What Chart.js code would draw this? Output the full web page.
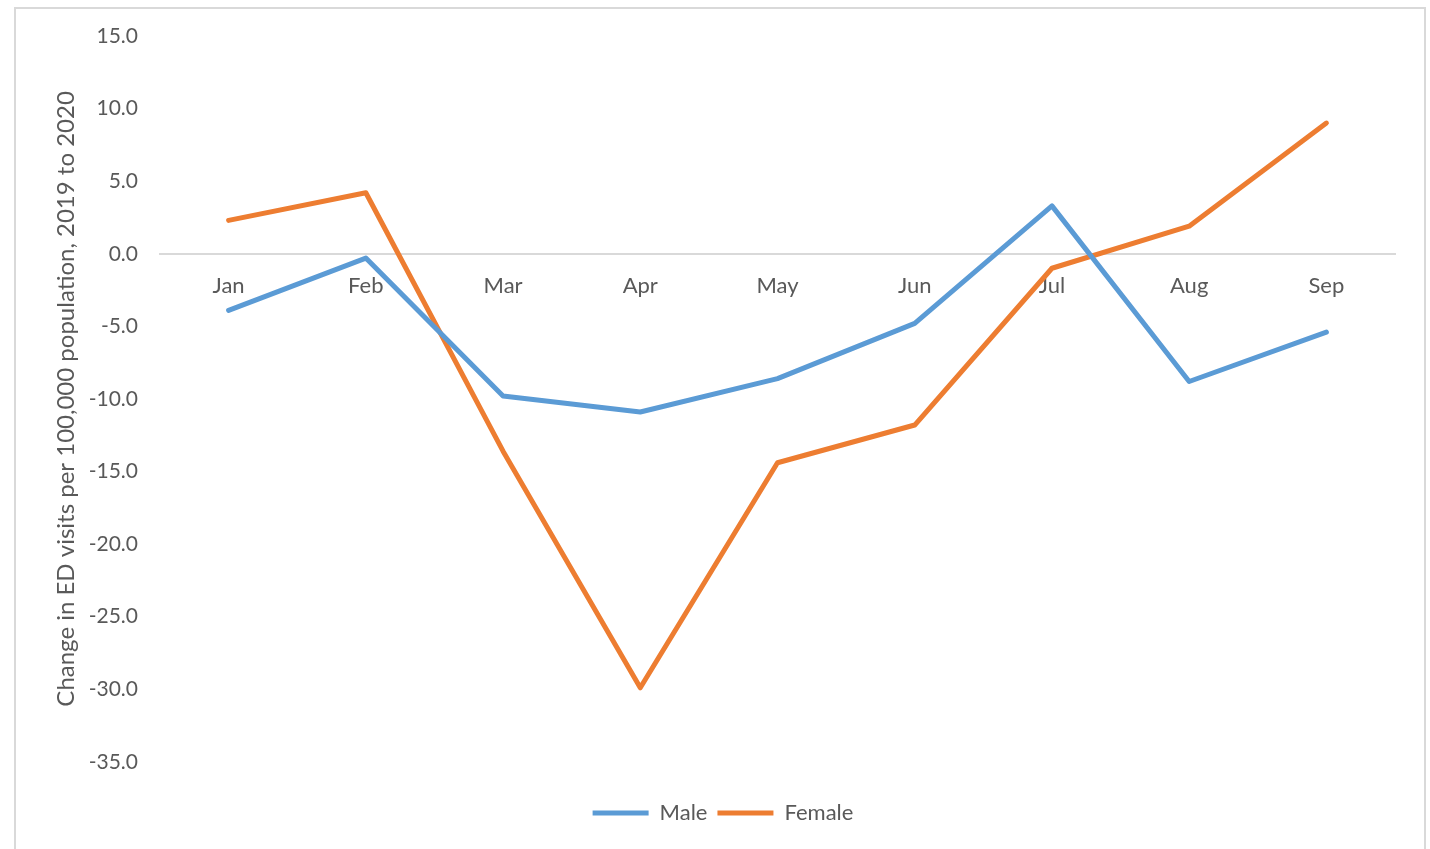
<!DOCTYPE html>
<html>
<head>
<meta charset="utf-8">
<script src="https://cdn.jsdelivr.net/npm/chart.js@4"></script>
<style>
html,body{margin:0;padding:0;background:#fff;overflow:hidden;}
canvas{display:block;}
</style>
</head>
<body>
<canvas id="c" width="1430" height="849"></canvas>
<script>
const months = ['Jan','Feb','Mar','Apr','May','Jun','Jul','Aug','Sep'];
const maleValues = [-3.9, -0.3, -9.8, -10.9, -8.6, -4.8, 3.3, -8.8, -5.4];
const femaleValues = [2.3, 4.2, -13.6, -29.9, -14.4, -11.8, -1.0, 1.9, 9.0];
const seriesNames = ['Male', 'Female'];
const yAxisTitle = 'Change in ED visits per 100,000 population, 2019 to 2020';
const yMin = -35, yMax = 15, yStep = 5;

const FONT = 'Lato, "Liberation Sans", sans-serif';
const TEXT = '#595959';

const borderPlugin = {
  id: 'outerBorder',
  beforeDraw(chart) {
    const ctx = chart.ctx;
    ctx.save();
    ctx.fillStyle = '#fff';
    ctx.fillRect(0, 0, chart.width, chart.height);
    ctx.strokeStyle = '#d9d9d9';
    ctx.lineWidth = 2;
    ctx.strokeRect(15, 8, 1410, 900);
    ctx.restore();
  }
};

new Chart(document.getElementById('c'), {
  type: 'line',
  data: {
    labels: months,
    datasets: [
      {label: seriesNames[0], data: maleValues, borderColor: '#5B9BD5', backgroundColor: '#5B9BD5',
       borderWidth: 5, pointRadius: 0, tension: 0, borderCapStyle: 'round', borderJoinStyle: 'round', pointStyle: 'line'},
      {label: seriesNames[1], data: femaleValues, borderColor: '#ED7D31', backgroundColor: '#ED7D31',
       borderWidth: 5, pointRadius: 0, tension: 0, borderCapStyle: 'round', borderJoinStyle: 'round', pointStyle: 'line'}
    ]
  },
  options: {
    responsive: false,
    animation: false,
    events: [],
    layout: {padding: {left: 51, right: 35, top: 36, bottom: 15}},
    plugins: {
      tooltip: {enabled: false},
      legend: {
        position: 'bottom',
        title: {display: true, text: ' ', padding: {top: 29, bottom: 0}, font: {size: 1}},
        labels: {
          usePointStyle: true,
          pointStyleWidth: 56,
          boxHeight: 20,
          padding: 10,
          color: TEXT,
          font: {family: FONT, size: 22}
        }
      }
    },
    scales: {
      x: {
        type: 'category',
        position: {y: 0},
        offset: true,
        grid: {display: false, drawTicks: false},
        border: {display: true, color: '#d9d9d9', width: 2},
        ticks: {color: TEXT, font: {family: FONT, size: 22}, padding: 19, maxRotation: 0, autoSkip: false}
      },
      y: {
        min: yMin, max: yMax,
        grid: {display: false, drawTicks: false},
        border: {display: false},
        ticks: {stepSize: yStep, color: TEXT, font: {family: FONT, size: 21}, padding: 22,
                callback: v => Number(v).toFixed(1)},
        title: {display: true, text: yAxisTitle, color: TEXT, font: {family: FONT, size: 24}, padding: {top: 1, bottom: 3}},
        afterFit: s => { s.width = 109; }
      }
    }
  },
  plugins: [borderPlugin]
});
</script>
</body>
</html>
